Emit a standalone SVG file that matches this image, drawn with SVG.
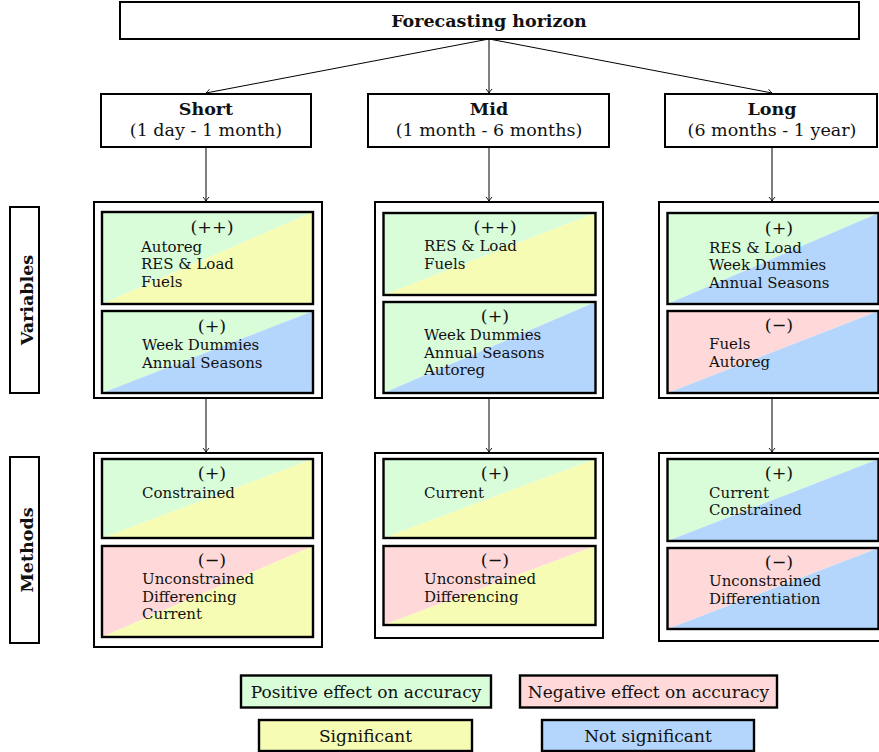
<svg xmlns="http://www.w3.org/2000/svg" width="879" height="752" viewBox="0 0 879 752">
<defs>
<style>
.box{fill:#fff;stroke:#000;stroke-width:2}
.in{fill:none;stroke:#000;stroke-width:2.4}
.pos{fill:#d9fcd9}.neg{fill:#ffd9d9}.sig{fill:#f7fcb5}.ns{fill:#b5d6fc}
.t{font-family:"DejaVu Serif","Liberation Serif",serif;font-size:15px;fill:#111}
.h{font-size:17.5px}
.g{font-size:17px}
.b{font-weight:bold;font-size:17.5px}
.c{text-anchor:middle}
.ln{stroke:#000;stroke-width:1;fill:none}
</style>
<marker id="ar" viewBox="-5 -4 6 8" refX="0" refY="0" markerWidth="6" markerHeight="8" orient="auto" markerUnits="userSpaceOnUse">
<path d="M-4,-3 Q-1.5,-0.8 0,0 Q-1.5,0.8 -4,3" fill="none" stroke="#000" stroke-width="0.9"/>
</marker>
</defs>
<rect width="879" height="752" fill="#fff"/>

<g id="connectors">
<line class="ln" x1="489" y1="39" x2="206" y2="93" marker-end="url(#ar)"/>
<line class="ln" x1="489" y1="39" x2="489" y2="93" marker-end="url(#ar)"/>
<line class="ln" x1="489" y1="39" x2="772" y2="93" marker-end="url(#ar)"/>
<line class="ln" x1="206" y1="148" x2="206" y2="201" marker-end="url(#ar)"/>
<line class="ln" x1="489" y1="148" x2="489" y2="201" marker-end="url(#ar)"/>
<line class="ln" x1="772" y1="148" x2="772" y2="201" marker-end="url(#ar)"/>
<line class="ln" x1="206" y1="399" x2="206" y2="452" marker-end="url(#ar)"/>
<line class="ln" x1="489" y1="399" x2="489" y2="452" marker-end="url(#ar)"/>
<line class="ln" x1="772" y1="399" x2="772" y2="452" marker-end="url(#ar)"/>
</g>

<g id="top">
<rect class="box" x="120" y="2" width="739" height="37"/>
<text class="t b c" x="489" y="26.5">Forecasting horizon</text>
</g>

<g id="short">
<rect class="box" x="101" y="94" width="210" height="53"/>
<text class="t b c" x="206" y="115">Short</text>
<text class="t h c" x="206" y="136">(1 day - 1 month)</text>
</g>
<g id="mid">
<rect class="box" x="368" y="94" width="241" height="53"/>
<text class="t b c" x="489" y="115">Mid</text>
<text class="t h c" x="489" y="136">(1 month - 6 months)</text>
</g>
<g id="long">
<rect class="box" x="665" y="94" width="212" height="53"/>
<text class="t b c" x="772" y="115">Long</text>
<text class="t h c" x="772" y="136">(6 months - 1 year)</text>
</g>

<g id="label-variables">
<rect class="box" x="10" y="207" width="29" height="186"/>
<text class="t b c" transform="translate(33,300) rotate(-90)">Variables</text>
</g>
<g id="label-methods">
<rect class="box" x="10" y="457" width="29" height="186"/>
<text class="t b c" transform="translate(33,550) rotate(-90)">Methods</text>
</g>

<!-- Variables -->
<g id="short-variables">
<rect class="box" x="94" y="202" width="228" height="196"/>
<polygon class="pos" points="102,212 313,212 102,304"/>
<polygon class="sig" points="313,212 313,304 102,304"/>
<rect class="in" x="102" y="212" width="211" height="92"/>
<text class="t h c" x="212" y="233">(++)</text>
<text class="t" x="141" y="251.5">Autoreg</text>
<text class="t" x="141" y="269">RES &amp; Load</text>
<text class="t" x="141" y="286.5">Fuels</text>
<polygon class="pos" points="102,311 313,311 102,393"/>
<polygon class="ns" points="313,311 313,393 102,393"/>
<rect class="in" x="102" y="311" width="211" height="82"/>
<text class="t h c" x="212" y="331.5">(+)</text>
<text class="t" x="142" y="350">Week Dummies</text>
<text class="t" x="142" y="367.5">Annual Seasons</text>
</g>

<g id="mid-variables">
<rect class="box" x="375" y="202" width="228" height="196"/>
<polygon class="pos" points="383.5,213 595.5,213 383.5,295"/>
<polygon class="sig" points="595.5,213 595.5,295 383.5,295"/>
<rect class="in" x="383.5" y="213" width="212" height="82"/>
<text class="t h c" x="495" y="232.5">(++)</text>
<text class="t" x="424" y="251">RES &amp; Load</text>
<text class="t" x="424" y="268.5">Fuels</text>
<polygon class="pos" points="383.5,302 595.5,302 383.5,393"/>
<polygon class="ns" points="595.5,302 595.5,393 383.5,393"/>
<rect class="in" x="383.5" y="302" width="212" height="91"/>
<text class="t h c" x="495" y="321.5">(+)</text>
<text class="t" x="424" y="340">Week Dummies</text>
<text class="t" x="424" y="357.5">Annual Seasons</text>
<text class="t" x="424" y="375">Autoreg</text>
</g>

<g id="long-variables">
<rect class="box" x="659" y="202" width="228" height="196"/>
<polygon class="pos" points="667.5,213 878.5,213 667.5,304"/>
<polygon class="ns" points="878.5,213 878.5,304 667.5,304"/>
<rect class="in" x="667.5" y="213" width="211" height="91"/>
<text class="t h c" x="779" y="234">(+)</text>
<text class="t" x="709" y="252.5">RES &amp; Load</text>
<text class="t" x="709" y="270">Week Dummies</text>
<text class="t" x="709" y="287.5">Annual Seasons</text>
<polygon class="neg" points="667.5,311 878.5,311 667.5,393"/>
<polygon class="ns" points="878.5,311 878.5,393 667.5,393"/>
<rect class="in" x="667.5" y="311" width="211" height="82"/>
<text class="t h c" x="779" y="330.5">(−)</text>
<text class="t" x="709" y="349">Fuels</text>
<text class="t" x="709" y="366.5">Autoreg</text>
</g>

<!-- Methods -->
<g id="short-methods">
<rect class="box" x="94" y="453" width="228" height="194"/>
<polygon class="pos" points="102,459 313,459 102,538"/>
<polygon class="sig" points="313,459 313,538 102,538"/>
<rect class="in" x="102" y="459" width="211" height="79"/>
<text class="t h c" x="212" y="479">(+)</text>
<text class="t" x="142" y="497.5">Constrained</text>
<polygon class="neg" points="102,546 313,546 102,637"/>
<polygon class="sig" points="313,546 313,637 102,637"/>
<rect class="in" x="102" y="546" width="211" height="91"/>
<text class="t h c" x="212" y="565.5">(−)</text>
<text class="t" x="142" y="584">Unconstrained</text>
<text class="t" x="142" y="601.5">Differencing</text>
<text class="t" x="142" y="619">Current</text>
</g>

<g id="mid-methods">
<rect class="box" x="375" y="453" width="228" height="185"/>
<polygon class="pos" points="383.5,459 595.5,459 383.5,538"/>
<polygon class="sig" points="595.5,459 595.5,538 383.5,538"/>
<rect class="in" x="383.5" y="459" width="212" height="79"/>
<text class="t h c" x="495" y="479">(+)</text>
<text class="t" x="424" y="497.5">Current</text>
<polygon class="neg" points="383.5,546 595.5,546 383.5,625"/>
<polygon class="sig" points="595.5,546 595.5,625 383.5,625"/>
<rect class="in" x="383.5" y="546" width="212" height="79"/>
<text class="t h c" x="495" y="565.5">(−)</text>
<text class="t" x="424" y="584">Unconstrained</text>
<text class="t" x="424" y="601.5">Differencing</text>
</g>

<g id="long-methods">
<rect class="box" x="659" y="453" width="228" height="188"/>
<polygon class="pos" points="667.5,459 878.5,459 667.5,541"/>
<polygon class="ns" points="878.5,459 878.5,541 667.5,541"/>
<rect class="in" x="667.5" y="459" width="211" height="82"/>
<text class="t h c" x="779" y="479">(+)</text>
<text class="t" x="709" y="497.5">Current</text>
<text class="t" x="709" y="515">Constrained</text>
<polygon class="neg" points="667.5,548 878.5,548 667.5,629"/>
<polygon class="ns" points="878.5,548 878.5,629 667.5,629"/>
<rect class="in" x="667.5" y="548" width="211" height="81"/>
<text class="t h c" x="779" y="567.5">(−)</text>
<text class="t" x="709" y="586">Unconstrained</text>
<text class="t" x="709" y="603.5">Differentiation</text>
</g>

<!-- Legend -->
<g id="legend-positive">
<rect class="in pos" x="241" y="675.5" width="250" height="32"/>
<text class="t g c" x="366" y="697.5">Positive effect on accuracy</text>
</g>
<g id="legend-negative">
<rect class="in neg" x="520" y="675.5" width="257" height="32"/>
<text class="t g c" x="648.5" y="697.5">Negative effect on accuracy</text>
</g>
<g id="legend-significant">
<rect class="in sig" x="259" y="720" width="213" height="31"/>
<text class="t g c" x="365.5" y="742">Significant</text>
</g>
<g id="legend-notsignificant">
<rect class="in ns" x="542" y="720" width="212" height="31"/>
<text class="t g c" x="648" y="742">Not significant</text>
</g>
</svg>
